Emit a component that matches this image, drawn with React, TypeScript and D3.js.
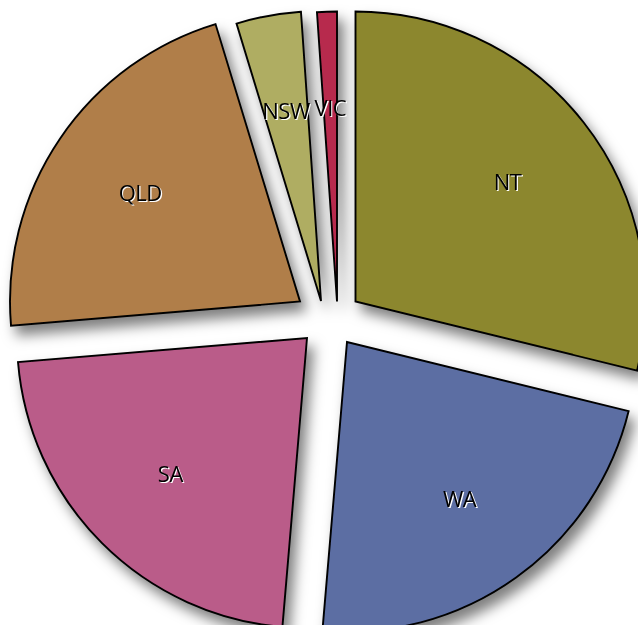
import React from "react";
import * as d3 from "d3";

const categories = ["NT", "WA", "SA", "QLD", "NSW", "VIC"];
const values = [28.8, 22.5, 22.3, 21.6, 3.6, 1.1];
const colors = ["#8c872d", "#5b6ea3", "#ba5b89", "#b07e48", "#afad62", "#b72b4e"];

// layout/style constants (pixel offsets of each exploded slice from the pie centre)
const WIDTH = 638;
const HEIGHT = 625;
const CX = 328;
const CY = 320;
const RADIUS = 290;
const explodeOffsets: [number, number][] = [
  [27.5, -18.5],
  [19, 22],
  [-21, 18],
  [-28, -18.5],
  [-7, -19],
  [9, -18.5],
];

export default function App() {
  const pie = d3.pie<number>().sort(null).value((d) => d);
  const arcs = pie(values);
  const arc = d3.arc<d3.PieArcDatum<number>>().innerRadius(0).outerRadius(RADIUS);
  const labelArc = d3
    .arc<d3.PieArcDatum<number>>()
    .innerRadius(RADIUS * 0.666)
    .outerRadius(RADIUS * 0.666);

  return (
    <svg
      width={WIDTH}
      height={HEIGHT}
      style={{ position: "absolute", left: 0, top: 0, background: "#fff" }}
    >
      <defs>
        <filter id="shadow" x="-20%" y="-20%" width="140%" height="140%">
          <feDropShadow dx="6" dy="9" stdDeviation="6.5" floodColor="#000" floodOpacity="0.5" />
        </filter>
      </defs>
      <g transform={`translate(${CX},${CY})`}>
        <g filter="url(#shadow)">
          {arcs.map((a, i) => (
            <path
              key={categories[i]}
              d={arc(a) || ""}
              transform={`translate(${explodeOffsets[i][0]},${explodeOffsets[i][1]})`}
              fill={colors[i]}
              stroke="#000"
              strokeWidth={1.9}
              strokeLinejoin="miter"
            />
          ))}
        </g>
        {arcs.map((a, i) => {
          const [lx, ly] = labelArc.centroid(a);
          const x = lx + explodeOffsets[i][0];
          const y = ly + explodeOffsets[i][1];
          return (
            <g key={"l" + categories[i]} fontFamily="'Open Sans', 'Liberation Sans', Arial, sans-serif" fontSize={22} textAnchor="middle" letterSpacing="-0.5">
              <text x={x + 1.2} y={y + 1.2} dy="0.35em" fill="#fff">
                {categories[i]}
              </text>
              <text x={x} y={y} dy="0.35em" fill="#000">
                {categories[i]}
              </text>
            </g>
          );
        })}
      </g>
    </svg>
  );
}
